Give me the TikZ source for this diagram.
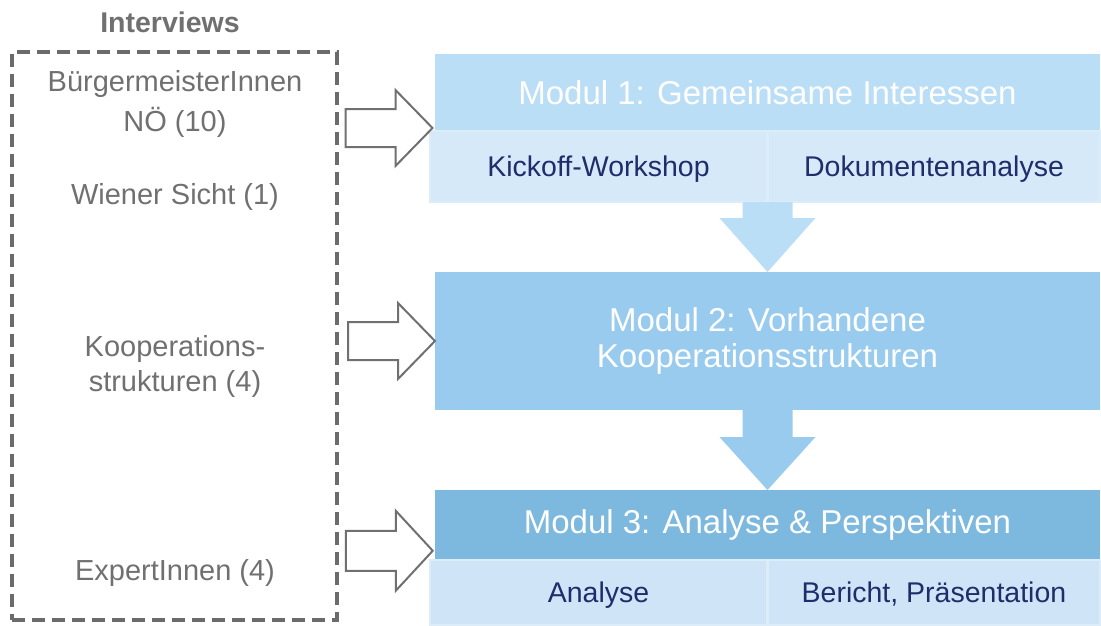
\documentclass[tikz,border=0pt]{standalone}
\usepackage{fontspec}
\setmainfont{Liberation Sans}
\usepackage{xcolor}
\usepackage{tikz}
\usetikzlibrary{arrows,positioning,calc}
\definecolor{modone}{HTML}{BBDEF7}
\definecolor{modtwo}{HTML}{98CBEE}
\definecolor{modthree}{HTML}{7DB9DF}
\definecolor{subone}{HTML}{D5E9F9}
\definecolor{subtwo}{HTML}{CFE4F6}
\definecolor{subline}{HTML}{DDECF9}
\definecolor{navy}{HTML}{1F2D6B}
\definecolor{sidegray}{HTML}{707070}
\definecolor{dashgray}{HTML}{6B6B6B}

\begin{document}
\begin{tikzpicture}[x=1pt, y=-1pt, every node/.style={inner sep=0pt, outer sep=0pt},
	title/.style={text=white, align=center, minimum width=665pt, font=\fontsize{33}{36}\selectfont},
	sub/.style={fill=subone, draw=subline, line width=1.5pt, minimum height=71pt, text depth=0pt, text=navy, font=\fontsize{28.5}{34}\selectfont},
	side/.style={text=sidegray, align=center, font=\fontsize{29}{40}\selectfont},
	inarrow/.style={draw=sidegray, line width=2pt, fill=white, line join=miter}]
		\useasboundingbox (0,0) rectangle (1101,625);
		% interviews
		\node[side, font=\bfseries\fontsize{28.5}{34}\selectfont] (iv) at (170,22) {Interviews};
		\node[draw=dashgray, line width=4pt, dash pattern=on 13pt off 7pt, minimum width=325pt, minimum height=568pt] (box) at (174.5,336) {};
		\node[side] (bm) at (175,104) {BürgermeisterInnen\\NÖ (10)};
		\node[side] (ws) at (175,197) {Wiener Sicht (1)};
		\node[side, font=\fontsize{29}{35}\selectfont] (ko) at (175,366) {Kooperations-\\strukturen (4)};
		\node[side] (ex) at (175,573) {ExpertInnen (4)};
		% modules
		\node[title, fill=modone, minimum height=77pt] (m1) at (767.5,92.5) {Modul 1: Gemeinsame Interessen};
		\node[sub, minimum width=337pt] (k1) at (598.5,166.5) {Kickoff-Workshop};
		\node[sub, minimum width=332pt] (k2) at (934,166.5) {Dokumentenanalyse};
		\node[title, fill=modtwo, minimum height=138pt] (m2) at (767.5,341) {Modul 2: Vorhandene\\Kooperationsstrukturen};
		\node[title, fill=modthree, minimum height=70pt] (m3) at (767.5,525) {Modul 3: Analyse \& Perspektiven};
		\node[sub, fill=subtwo, minimum width=337pt, minimum height=65pt] (a1) at (598.5,592.5) {Analyse};
		\node[sub, fill=subtwo, minimum width=332pt, minimum height=65pt] (a2) at (934,592.5) {Bericht, Präsentation};
		% down arrows
		\fill[modone] (m2.north) -- ++(48,-54) -- ++(-23,0) -- ++(0,-16) -- ++(-50,0) -- ++(0,16) -- ++(-23,0) -- cycle;
		\fill[modtwo] (m3.north) -- ++(48,-53) -- ++(-23,0) -- ++(0,-27) -- ++(-50,0) -- ++(0,27) -- ++(-23,0) -- cycle;
		% arrows into the modules
		\draw[inarrow] ($(m1.north west)!0.5!(k1.south west)$) -- ++(-37,-38) -- ++(0,19) -- ++(-50,0) -- ++(0,38) -- ++(50,0) -- ++(0,19) -- cycle;
		\draw[inarrow] (m2.west) -- ++(-37,-38) -- ++(0,19) -- ++(-50,0) -- ++(0,38) -- ++(50,0) -- ++(0,19) -- cycle;
		\draw[inarrow] ($(m3.north west)!0.45!(a1.south west)$) -- ++(-37,-40) -- ++(0,20) -- ++(-50,0) -- ++(0,40) -- ++(50,0) -- ++(0,20) -- cycle;
	\end{tikzpicture}
\end{document}
